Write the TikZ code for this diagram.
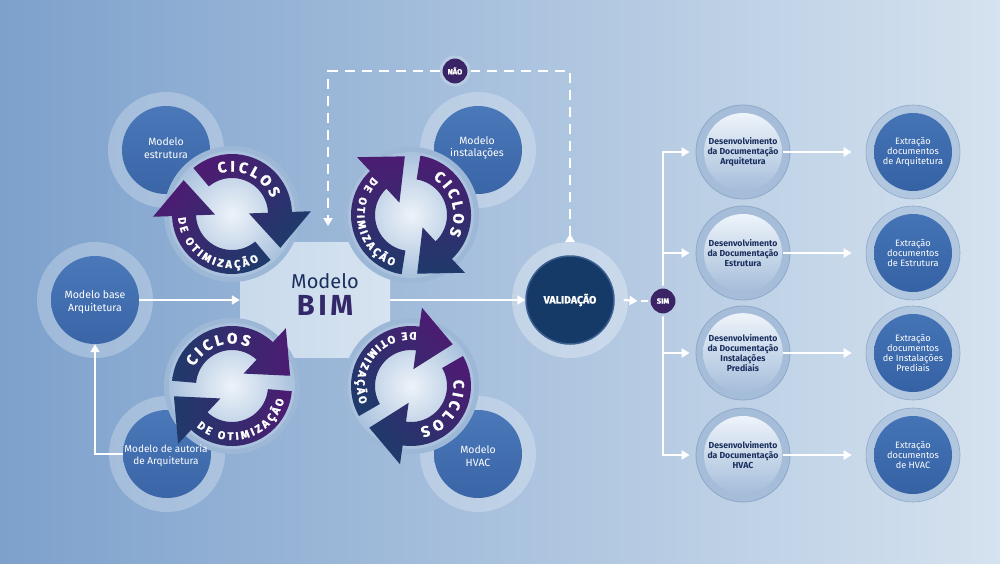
\documentclass[tikz,border=0pt]{standalone}
\usepackage{fontspec}
\setmainfont{Fira Sans}
\newfontfamily\heavy{Fira Sans}[BoldFeatures={FakeBold=1.5}]
\usetikzlibrary{arrows.meta,decorations.text}
\definecolor{bgL}{HTML}{7DA1CC}
\definecolor{bgR}{HTML}{D5E2EF}
\definecolor{modA}{HTML}{4A78B9}
\definecolor{modB}{HTML}{3A65A6}
\definecolor{purC}{HTML}{4C1C72}
\definecolor{navC}{HTML}{1F3A6B}
\definecolor{rimC}{HTML}{9DB7D6}
\definecolor{holeIn}{HTML}{EDF3F9}
\definecolor{holeOut}{HTML}{A9C1DD}
\definecolor{valC}{HTML}{163A68}
\definecolor{valRim}{HTML}{3A5F90}
\definecolor{badgeC}{HTML}{3B2466}
\definecolor{badgeH}{HTML}{B7CBE3}
\definecolor{txtNav}{HTML}{1B2F5E}
\definecolor{bimPur}{HTML}{33296A}
\definecolor{devRing}{HTML}{A6BDD9}
\definecolor{devEdge}{HTML}{8EA8C9}
\definecolor{devIn}{HTML}{EEF4FA}
\definecolor{devOut}{HTML}{A4BDDA}
\definecolor{extRing}{HTML}{B1C6DF}
\definecolor{extA}{HTML}{4474B6}
\definecolor{extB}{HTML}{3562A5}
\definecolor{bimL}{HTML}{C9DAEC}
\definecolor{bimM}{HTML}{EEF3F9}
\definecolor{bimR}{HTML}{D6E3F0}
\newcommand\cyctxt[1]{\heavy\bfseries\fontsize{#1}{#1}\selectfont\color{white}}
\newcommand\cycarrow[2]{%
  \shade[top color=purC, bottom color=navC, shading angle=#2]
   ({#1}:60) arc[start angle={#1}, end angle={#1-128}, radius=60]
   -- ({#1-128}:79) -- ({#1-165}:59) -- ({#1-128}:17) -- ({#1-128}:36)
   arc[start angle={#1-128}, end angle={#1}, radius=36] -- cycle;}
\newcommand\cyclefig[4]{%
  \begin{scope}[shift={(#1,#2)}]
    \fill[rimC] (0,0) circle (68);
    \shade[inner color=holeIn, outer color=holeOut] (0,0) circle (63);
    \cycarrow{#3}{#4}
    \cycarrow{#3+180}{#4}
    \path[decorate, decoration={text along path, text align={fit to path},
      text={|\cyctxt{15}|CICLOS}}]
      ({#3-22}:42.5) arc[start angle={#3-22}, end angle={#3-108}, radius=42.5];
    \path[decorate, decoration={text along path, text align={fit to path},
      text={|\cyctxt{11}|DE OTIMIZAÇÃO}}]
      ({#3+54}:54) arc[start angle={#3+54}, end angle={#3+170}, radius=54];
  \end{scope}}
\begin{document}
\begin{tikzpicture}[x=1pt,y=1pt,
  mhalo/.style={circle, fill=white, fill opacity=0.25, minimum size=116pt, inner sep=0pt},
  mcirc/.style={circle, top color=modA, bottom color=modB, minimum size=88pt, inner sep=0pt},
  mlabel/.style={text=white, align=center, inner sep=1pt, font=\fontsize{10.5}{12.5}\selectfont},
  dring/.style={circle, fill=devRing, draw=devEdge, line width=0.8pt, minimum size=94pt, inner sep=0pt},
  dcirc/.style={circle, top color=devIn, bottom color=devOut, minimum size=78pt, inner sep=0pt,
    text=txtNav, align=center, font=\bfseries\fontsize{8.7}{9.7}\selectfont},
  ering/.style={circle, fill=extRing, draw=devEdge, line width=0.6pt, minimum size=94pt, inner sep=0pt},
  ecirc/.style={circle, top color=extA, bottom color=extB, minimum size=78pt, inner sep=0pt,
    text=white, align=center, font=\fontsize{9.2}{10}\selectfont},
  badge/.style={circle, fill=badgeC, draw=badgeH, line width=3pt, minimum size=28pt, inner sep=0pt,
    text=white, font=\heavy\bfseries\fontsize{7.5}{8}\selectfont},
  warrow/.style={draw=white, line width=2.2pt, -{Triangle[width=9pt,length=8pt]}},
  wline/.style={draw=white, line width=2.2pt},
  dline/.style={draw=white, line width=2pt, dash pattern=on 10pt off 7pt}]
\useasboundingbox (0,0) rectangle (1000,-563);
\shade[left color=bgL, right color=bgR] (0,0) rectangle (1000,-563);
% Modelo BIM box
\node[rectangle, minimum width=150pt, minimum height=115pt, inner sep=0pt,
  left color=bimL, middle color=bimM, right color=bimR] (bim) at (315,-300) {};
\node[text=txtNav, font=\fontsize{20}{22}\selectfont] (bimt1) at (325,-281) {Modelo};
\node[text=bimPur, font=\bfseries\fontsize{29}{30}\selectfont] (bimt2) at (325,-305)
  {\addfontfeatures{LetterSpace=12}BIM};
% Modelo circles
\node[mhalo] (estrh) at (166,-150) {};
\node[mcirc] (estr) at (166,-150) {};
\node[mhalo] (insth) at (478,-150) {};
\node[mcirc] (inst) at (478,-150) {};
\node[mhalo] (baseh) at (95,-300) {};
\node[mcirc] (base) at (95,-300) {};
\node[mhalo] (autoh) at (167,-454) {};
\node[mcirc] (auto) at (167,-454) {};
\node[mhalo] (hvach) at (478,-454) {};
\node[mcirc] (hvac) at (478,-454) {};
% Validacao
\node[circle, fill=white, fill opacity=0.3, minimum size=116pt, inner sep=0pt] (vhalo) at (570,-300) {};
\node[circle, fill=valC, draw=valRim, line width=1.5pt, minimum size=88pt, inner sep=0pt,
  text=white, font=\heavy\bfseries\fontsize{10.5}{12}\selectfont] (valid) at (570,-300) {VALIDAÇÃO};
% Documentation columns
\foreach \i/\y/\dt/\et in {
  1/152/{Desenvolvimento\\da Documentação\\Arquitetura}/{Extração\\documentos\\de Arquitetura},
  2/253/{Desenvolvimento\\da Documentação\\Estrutura}/{Extração\\documentos\\de Estrutura},
  3/353/{Desenvolvimento\\da Documentação\\Instalações\\Prediais}/{Extração\\documentos\\de Instalações\\Prediais},
  4/455/{Desenvolvimento\\da Documentação\\HVAC}/{Extração\\documentos\\de HVAC}}{
  \node[dring] (dev\i) at (743,-\y) {};
  \node[dcirc] (dev\i t) at (743,-\y) {\dt};
  \node[ering] (ext\i) at (913,-\y) {};
  \node[ecirc] (ext\i t) at (913,-\y) {\et};
}
\coordinate (simc) at (663,-301);
\coordinate (naoc) at (455,-71);
\coordinate (dashend) at (328,-226);
% Connectors
\draw[warrow] (auto.west) -| (base.south);
\draw[warrow] (base.east) -- (bim.west);
\draw[warrow] (bim.east) -- (valid.west);
\foreach \i in {1,...,4}{
  \draw[warrow, shorten >=6pt] (simc) |- (dev\i.west);
  \draw[warrow, shorten <=-7pt, shorten >=14pt] (dev\i.east) -- (ext\i.west);
}
% badges on top of lines
\node[badge] (sim) at (simc) {SIM};
\node[badge] (nao) at (naoc) {NÃO};
\draw[warrow] ([xshift=9pt]valid.east) -- ([xshift=-10pt]sim.west);
\draw[wline] ([xshift=-7pt]sim.west) -- (sim.west);
\draw[dline, {Triangle[reversed,width=9pt,length=8pt]}-] (vhalo.north) |- (nao.east);
\draw[dline, -{Triangle[width=9pt,length=8pt]}] (nao.west) -| (dashend);
% Cycles
\cyclefig{232}{-214}{130}{45}
\cyclefig{411}{-215}{81}{0}
\cyclefig{232}{-386}{175}{-90}
\cyclefig{411}{-386}{30}{-45}
% Modelo labels (on top)
\node[mlabel] (estrl) at (166,-148) {Modelo\\estrutura};
\node[mlabel] (instl) at (477,-148) {Modelo\\instalações};
\node[mlabel] (basel) at (95,-302) {Modelo base\\Arquitetura};
\node[mlabel, font=\fontsize{10}{12}\selectfont] (autol) at (166,-456) {Modelo de autoria\\de Arquitetura};
\node[mlabel] (hvacl) at (478,-456) {Modelo\\HVAC};
\end{tikzpicture}
\end{document}
